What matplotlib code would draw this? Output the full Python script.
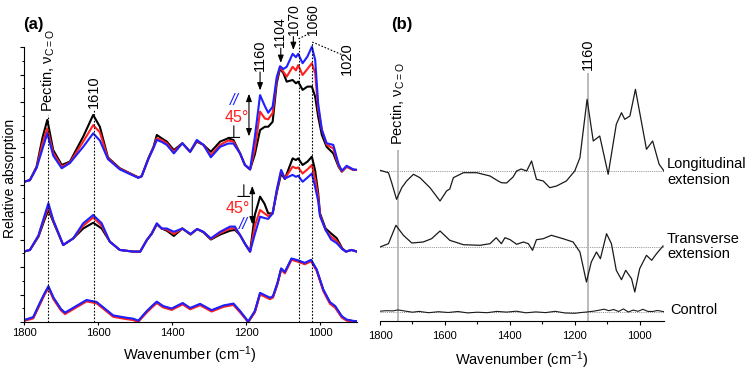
import numpy as np
import matplotlib
matplotlib.use('Agg')
import matplotlib.pyplot as plt
from matplotlib.ticker import FixedLocator

plt.rcParams['font.family'] = ['Liberation Sans', 'DejaVu Sans']
plt.rcParams['mathtext.fontset'] = 'custom'
plt.rcParams['mathtext.rm'] = 'Liberation Sans'
plt.rcParams['mathtext.it'] = 'Liberation Sans:italic'
plt.rcParams['mathtext.bf'] = 'Liberation Sans:bold'
plt.rcParams['mathtext.default'] = 'regular'

# ---- panel (a): polarised spectra, three stacked groups --------------------
# top group
top_wn = [1800, 1784, 1766, 1750, 1737, 1721, 1698, 1676, 1640, 1613, 1595, 1573, 1541,
          1514, 1491, 1482, 1464, 1450, 1441, 1428, 1414, 1395, 1372, 1351, 1333, 1315,
          1295, 1270, 1248, 1234, 1216, 1203, 1189, 1176, 1162, 1149, 1140, 1128, 1117,
          1108, 1099, 1090, 1074, 1065, 1059, 1047, 1034, 1022, 1013, 1005, 995, 982,
          964, 950, 941, 928, 910, 900]
top_perp = [5.10, 5.16, 5.65, 6.70, 7.35, 6.25, 5.71, 5.83, 6.74, 7.53, 7.10, 5.98, 5.59,
            5.41, 5.26, 5.30, 5.95, 6.37, 6.80, 6.68, 6.56, 6.25, 6.50, 6.19, 6.56, 6.44,
            6.19, 6.56, 6.68, 6.62, 6.13, 5.71, 5.55, 6.10, 6.98, 7.10, 7.10, 7.28, 8.68,
            9.22, 9.05, 8.74, 8.80, 8.68, 8.74, 8.44, 8.56, 8.56, 8.19, 7.47, 6.80, 6.37,
            6.13, 5.65, 5.47, 5.65, 5.53, 5.53]
top_45 = [5.10, 5.16, 5.62, 6.50, 7.04, 6.15, 5.65, 5.80, 6.56, 7.16, 6.90, 5.95, 5.57,
          5.40, 5.25, 5.30, 5.93, 6.35, 6.68, 6.62, 6.50, 6.19, 6.50, 6.19, 6.59, 6.44,
          6.07, 6.44, 6.60, 6.56, 6.13, 5.71, 5.55, 6.30, 7.65, 7.40, 7.37, 7.60, 8.80,
          9.28, 9.10, 8.92, 9.28, 9.15, 9.34, 8.98, 9.20, 9.41, 9.04, 7.75, 7.00, 6.45,
          6.31, 5.68, 5.47, 5.65, 5.53, 5.53]
top_par = [5.10, 5.16, 5.60, 6.30, 6.86, 6.05, 5.59, 5.78, 6.37, 6.86, 6.60, 5.92, 5.55,
           5.38, 5.24, 5.30, 5.92, 6.33, 6.62, 6.55, 6.44, 6.13, 6.50, 6.19, 6.62, 6.44,
           5.99, 6.37, 6.49, 6.49, 6.13, 5.71, 5.55, 6.74, 8.25, 7.85, 7.61, 7.83, 8.90,
           9.30, 9.20, 9.28, 9.75, 9.63, 9.75, 9.41, 9.65, 10.01, 9.53, 7.95, 6.98, 6.50,
           6.44, 5.75, 5.50, 5.68, 5.55, 5.53]

# middle group
mid_wn = [1800, 1784, 1761, 1745, 1734, 1721, 1694, 1667, 1640, 1613, 1590, 1568, 1541,
          1505, 1486, 1468, 1455, 1441, 1428, 1414, 1395, 1372, 1350, 1332, 1315, 1295,
          1270, 1243, 1230, 1216, 1203, 1189, 1176, 1162, 1150, 1140, 1128, 1117, 1105,
          1095, 1074, 1065, 1059, 1047, 1034, 1022, 1013, 1005, 1000, 985, 970, 955, 940,
          930, 915, 900]
mid_perp = [2.56, 2.62, 3.10, 3.70, 4.07, 3.65, 2.80, 3.04, 3.40, 3.61, 3.40, 2.92, 2.62,
            2.56, 2.56, 2.98, 3.20, 3.55, 3.40, 3.32, 3.13, 3.40, 3.18, 3.38, 3.26, 3.00,
            3.18, 3.32, 3.35, 3.16, 2.85, 2.56, 3.90, 4.56, 4.30, 3.95, 3.95, 4.70, 5.40,
            5.20, 5.95, 5.89, 5.95, 5.71, 5.83, 6.01, 5.50, 4.70, 3.95, 3.40, 3.22, 3.05,
            2.68, 2.56, 2.62, 2.56]
mid_45 = [2.56, 2.62, 3.12, 3.78, 4.19, 3.68, 2.80, 3.04, 3.50, 3.80, 3.50, 2.92, 2.62,
          2.56, 2.56, 2.98, 3.21, 3.57, 3.40, 3.36, 3.20, 3.40, 3.19, 3.38, 3.27, 3.02,
          3.23, 3.40, 3.41, 3.16, 2.85, 2.56, 3.50, 4.07, 3.95, 3.85, 3.95, 4.75, 5.50,
          5.22, 5.65, 5.59, 5.62, 5.40, 5.55, 5.71, 5.20, 4.55, 3.90, 3.35, 3.10, 2.95,
          2.66, 2.56, 2.62, 2.56]
mid_par = [2.56, 2.62, 3.15, 3.85, 4.32, 3.71, 2.80, 3.04, 3.59, 3.89, 3.59, 2.92, 2.62,
           2.56, 2.56, 2.98, 3.22, 3.59, 3.40, 3.40, 3.28, 3.40, 3.20, 3.38, 3.28, 3.04,
           3.28, 3.47, 3.47, 3.16, 2.85, 2.56, 3.20, 3.83, 3.78, 3.75, 3.95, 4.80, 5.53,
           5.22, 5.35, 5.28, 5.32, 5.10, 5.25, 5.40, 4.90, 4.40, 3.85, 3.35, 3.00, 2.87,
           2.65, 2.56, 2.62, 2.56]

# bottom group (control)
bot_wn = [1800, 1797, 1775, 1757, 1745, 1734, 1720, 1700, 1689, 1660, 1631, 1604, 1580,
          1559, 1530, 1505, 1491, 1468, 1455, 1441, 1424, 1401, 1371, 1351, 1324, 1293,
          1261, 1234, 1216, 1194, 1176, 1162, 1135, 1127, 1115, 1105, 1095, 1077, 1059,
          1041, 1024, 1009, 991, 973, 959, 941, 928, 910, 900]
bot_perp = [0.07, 0.07, 0.16, 0.67, 1.00, 1.27, 0.85, 0.45, 0.32, 0.55, 0.78, 0.71, 0.45,
            0.22, 0.15, 0.10, 0.03, 0.38, 0.55, 0.72, 0.56, 0.47, 0.67, 0.49, 0.64, 0.41,
            0.58, 0.65, 0.38, 0.00, 0.38, 1.04, 0.86, 0.92, 1.40, 1.93, 1.80, 2.29, 2.22,
            2.13, 2.24, 1.89, 1.16, 0.70, 0.56, 0.19, 0.07, 0.03, 0.02]
bot_45 = [0.05, 0.05, 0.13, 0.64, 0.98, 1.24, 0.82, 0.42, 0.29, 0.52, 0.75, 0.68, 0.42,
          0.19, 0.12, 0.07, 0.01, 0.35, 0.52, 0.69, 0.53, 0.44, 0.64, 0.46, 0.61, 0.38,
          0.55, 0.62, 0.35, 0.00, 0.35, 1.00, 0.83, 0.89, 1.37, 1.90, 1.77, 2.26, 2.19,
          2.10, 2.21, 1.86, 1.12, 0.66, 0.52, 0.16, 0.05, 0.02, 0.01]
bot_par = [0.08, 0.08, 0.18, 0.70, 1.03, 1.30, 0.88, 0.47, 0.34, 0.57, 0.80, 0.73, 0.47,
           0.24, 0.17, 0.12, 0.05, 0.40, 0.57, 0.74, 0.58, 0.49, 0.69, 0.51, 0.66, 0.43,
           0.60, 0.67, 0.40, 0.02, 0.40, 1.06, 0.88, 0.94, 1.42, 1.95, 1.82, 2.31, 2.24,
           2.15, 2.26, 1.91, 1.18, 0.72, 0.58, 0.21, 0.09, 0.04, 0.03]

# ---- panel (b): difference spectra ----------------------------------------
long_wn = [1800, 1774, 1764, 1749, 1733, 1718, 1697, 1677, 1646, 1615, 1595, 1585, 1574,
           1543, 1502, 1461, 1436, 1426, 1410, 1390, 1379, 1365, 1348, 1333, 1318, 1297,
           1277, 1256, 1226, 1200, 1184, 1162, 1143, 1123, 1108, 1097, 1072, 1056, 1046,
           1030, 1013, 979, 960, 940, 925]
long_diff = [0.7, -1.7, -11.7, -28.3, -16.7, -10, -3.3, -6.7, -16.7, -30, -20, -18, -6.7,
             -1.7, -1.7, -5, -10, -11.7, -12, -6, 0, 2, 0, 10, -8.3, -10, -16.7, -15, -10,
             0, 13.3, 71.7, 30, 35, 13, -3.3, 46.7, 58.3, 51.7, 55, 81.7, 21.7, 30, 6.7, 0]

trans_wn = [1800, 1774, 1751, 1728, 1702, 1667, 1641, 1615, 1585, 1543, 1492, 1461, 1442,
            1426, 1415, 1399, 1379, 1358, 1343, 1330, 1318, 1297, 1272, 1236, 1205, 1184,
            1164, 1149, 1133, 1121, 1102, 1087, 1072, 1056, 1043, 1025, 1015, 1000, 979,
            963, 948, 928]
trans_diff = [0, 3.3, 21.7, 11.7, 4, 5, 8.3, 16, 6.7, 2.3, 1.7, 3.3, 9.3, 3.3, 9.3, 7.3,
              2.7, 5, 3.3, -3.3, 7.3, 8.3, 11.7, 8.3, 5, -5, -35, -15, -5, -11.7, 13.3,
              3.3, -23.3, -32.7, -23.3, -31.7, -45, -21.7, -8.3, -13.3, -6.7, 1]

ctrl_wn = [1800, 1780, 1760, 1745, 1720, 1700, 1680, 1650, 1620, 1590, 1560, 1530, 1500,
           1470, 1440, 1410, 1380, 1350, 1320, 1290, 1260, 1230, 1200, 1180, 1160, 1140,
           1120, 1110, 1095, 1080, 1065, 1050, 1035, 1020, 1005, 990, 975, 960, 945, 925]
ctrl_diff = [0.5, 1.0, 0.8, 1.8, 0.5, -0.5, 0.3, -1.0, 0.0, -0.8, 0.2, -1.2, -0.5, -1.0,
             0.3, -0.4, 0.5, -1.1, -0.2, -0.9, 0.4, -1.3, -1.6, -0.8, -0.2, 0.6, 1.8, 2.5,
             1.0, 2.2, 0.2, 2.8, -0.3, 1.6, 0.4, 2.4, 0.3, 0.2, 1.2, 0.0]

long_off, trans_off, ctrl_off = 150, 74, 9.3

BLACK, RED, BLUE = '#000000', '#ff1f1f', '#1f1fff'
W, H = 746, 370

fig = plt.figure(figsize=(W / 100, H / 100), dpi=100)

# ---------------- (a) ----------------
axA = fig.add_axes([24 / W, 48 / H, 333 / W, 322 / H])
for wn, p, m, q in [(top_wn, top_perp, top_45, top_par),
                    (mid_wn, mid_perp, mid_45, mid_par),
                    (bot_wn, bot_perp, bot_45, bot_par)]:
    axA.plot(wn, p, color=BLACK, lw=1.5)
    axA.plot(wn, m, color=RED, lw=1.5)
    axA.plot(wn, q, color=BLUE, lw=1.5)

axA.set_xlim(1800, 900)
axA.set_ylim(0, 322 / 27.5)
for s in ['top', 'right']:
    axA.spines[s].set_visible(False)
axA.spines['left'].set_bounds(0, 10)
axA.set_xticks([1800, 1600, 1400, 1200, 1000])
axA.yaxis.set_major_locator(FixedLocator(np.arange(0, 11, 1)))
axA.yaxis.set_minor_locator(FixedLocator(np.arange(0.5, 10, 1)))
axA.set_yticklabels([])
axA.tick_params(axis='x', direction='out', length=2.5, width=0.8, pad=1.5, labelsize=8)
axA.tick_params(axis='y', which='major', direction='out', length=3, width=0.8)
axA.tick_params(axis='y', which='minor', direction='out', length=1.8, width=0.7)

dot = (0, (1.5, 1.5))
axA.vlines([1735], 0, 7.53, colors='k', lw=0.8, linestyles=[dot])
axA.vlines([1610], 0, 7.70, colors='k', lw=0.8, linestyles=[dot])
axA.vlines([1058], 0, 10.30, colors='k', lw=0.8, linestyles=[dot])
axA.vlines([1021], 0, 10.18, colors='k', lw=0.8, linestyles=[dot])
axA.plot([1058, 1035], [10.30, 10.45], color='k', lw=0.8, ls=dot)
axA.plot([1021, 939], [10.18, 9.71], color='k', lw=0.8, ls=dot)

rot = dict(rotation=90, ha='center', va='bottom', fontsize=10.5)
axA.text(1735, 7.62, 'Pectin, ν$_{C=O}$', **rot)
axA.text(1611, 7.78, '1610', **rot)
axA.text(1162, 9.13, '1160', **rot)
axA.text(1108, 10.0, '1104', rotation=90, ha='center', va='bottom', fontsize=10)
axA.text(1071, 10.42, '1070', rotation=90, ha='center', va='bottom', fontsize=10)
axA.text(1019, 10.45, '1060', rotation=90, ha='center', va='bottom', fontsize=10)
axA.text(927, 10.18, '1020', rotation=90, ha='center', va='top', fontsize=10.5)

arr = dict(arrowstyle='-|>,head_length=0.45,head_width=0.17', lw=0.8, color='k',
           shrinkA=0, shrinkB=0)
axA.annotate('', xy=(1162, 8.42), xytext=(1162, 9.09), arrowprops=arr)
axA.annotate('', xy=(1106, 9.42), xytext=(1106, 9.96), arrowprops=arr)
axA.annotate('', xy=(1072, 9.89), xytext=(1072, 10.38), arrowprops=arr)

darr = dict(arrowstyle='<|-|>,head_length=0.45,head_width=0.17', lw=0.8, color='k',
            shrinkA=0, shrinkB=0)
axA.annotate('', xy=(1192, 8.3), xytext=(1192, 6.75), arrowprops=darr)
axA.annotate('', xy=(1183, 4.95), xytext=(1183, 3.55), arrowprops=darr)

sym = dict(ha='center', va='center', fontsize=11.5)
axA.text(1230, 8.07, '//', color=BLUE, style='italic', **sym)
axA.text(1224, 7.42, '45°', color=RED, **sym)
axA.text(1235, 6.87, '⊥', color=BLACK, ha='center', va='center', fontsize=13)
axA.text(1208, 4.72, '⊥', color=BLACK, ha='center', va='center', fontsize=13)
axA.text(1222, 4.12, '45°', color=RED, **sym)
axA.text(1208, 3.53, '//', color=BLUE, style='italic', **sym)

# ---------------- (b) ----------------
axB = fig.add_axes([380 / W, 49 / H, 284 / W, 321 / H])
axB.hlines([long_off, trans_off, ctrl_off], 1800, 925, colors='#8c8c8c', lw=0.7,
           linestyles=[(0, (1, 1.2))])
axB.vlines([1745], 0, 171, colors='#b5b5b5', lw=1.3)
axB.vlines([1160], 0, 248, colors='#b5b5b5', lw=1.3)
axB.plot(long_wn, np.array(long_diff) + long_off, color='#1a1a1a', lw=0.9)
axB.plot(trans_wn, np.array(trans_diff) + trans_off, color='#1a1a1a', lw=0.9)
axB.plot(ctrl_wn, np.array(ctrl_diff) + ctrl_off, color='#1a1a1a', lw=0.8)

axB.set_xlim(1800, 925)
axB.set_ylim(0, 321)
for s in ['top', 'right', 'left']:
    axB.spines[s].set_visible(False)
axB.set_yticks([])
axB.set_xticks([1800, 1600, 1400, 1200, 1000])
axB.xaxis.set_minor_locator(FixedLocator([1700, 1500, 1300, 1100]))
axB.tick_params(axis='x', which='major', direction='out', length=3.2, width=0.8,
                pad=4, labelsize=8)
axB.tick_params(axis='x', which='minor', direction='out', length=2, width=0.8)

axB.text(1745, 176, 'Pectin, ν$_{C=O}$', **rot)
axB.text(1160, 251, '1160', **rot)
lab = dict(ha='left', va='center', fontsize=10.5, linespacing=1.15)
axB.text(916, 149, 'Longitudinal\nextension', **lab)
axB.text(916, 74.5, 'Transverse\nextension', **lab)
axB.text(907, 11, 'Control', **lab)

# ---------------- labels ----------------
fig.text(33 / W, 1 - 25 / H, '(a)', fontsize=12, weight='bold', ha='center', va='center')
fig.text(402 / W, 1 - 25 / H, '(b)', fontsize=12, weight='bold', ha='center', va='center')
fig.text(10 / W, 1 - 178 / H, 'Relative absorption', rotation=90, fontsize=10,
         ha='center', va='center')
fig.text(190 / W, 1 - 355 / H, 'Wavenumber (cm$^{-1}$)', fontsize=10.5,
         ha='center', va='center')
fig.text(522 / W, 1 - 360 / H, 'Wavenumber (cm$^{-1}$)', fontsize=10.5,
         ha='center', va='center')

fig.savefig('out.png', dpi=100)
